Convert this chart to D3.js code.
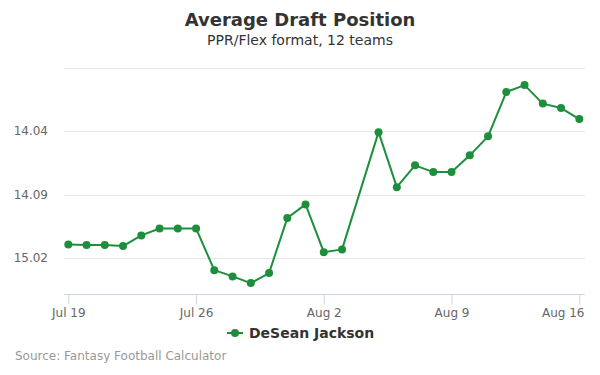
<!DOCTYPE html>
<html>
<head>
<meta charset="utf-8">
<script src="https://cdn.jsdelivr.net/npm/d3@7"></script>
<style>
  body { margin: 0; background: #fff; }
  svg { font-family: "DejaVu Sans", sans-serif; display: block; }
</style>
</head>
<body>
<svg id="chart" width="600" height="375"></svg>
<script>
// dates (2020) and overall pick number (12-team league)
const dates = [
  '2020-07-19', '2020-07-20', '2020-07-21', '2020-07-22', '2020-07-23', '2020-07-24', '2020-07-25',
  '2020-07-26', '2020-07-27', '2020-07-28', '2020-07-29', '2020-07-30', '2020-07-31', '2020-08-01',
  '2020-08-02', '2020-08-03', '2020-08-05', '2020-08-06', '2020-08-07', '2020-08-08', '2020-08-09',
  '2020-08-10', '2020-08-11', '2020-08-12', '2020-08-13', '2020-08-14', '2020-08-15', '2020-08-16'
];
const picks = [
  168.92, 168.97, 168.97, 169.05, 168.21, 167.66, 167.66,
  167.66, 170.95, 171.44, 171.97, 171.18, 166.84, 165.76,
  169.53, 169.31, 160.06, 164.40, 162.68, 163.21, 163.21,
  161.89, 160.39, 156.90, 156.35, 157.81, 158.16, 159.03
];
const gridValues = [155, 160, 165, 170];
const yTickValues = [160, 165, 170];
const yTickLabels = ['14.04', '14.09', '15.02'];
const xTickDates = ['2020-07-19', '2020-07-26', '2020-08-02', '2020-08-09', '2020-08-16'];
const xTickLabels = ['Jul 19', 'Jul 26', 'Aug 2', 'Aug 9', 'Aug 16'];
const seriesName = 'DeSean Jackson';

const green = '#1d8f3c';
const parse = d3.timeParse('%Y-%m-%d');
const data = dates.map((d, i) => ({ date: parse(d), pick: picks[i] }));

const svg = d3.select('#chart');
const plotLeft = 64, plotRight = 585, plotTop = 68, plotBottom = 294;

const x = d3.scaleTime()
  .domain([parse('2020-07-19'), parse('2020-08-16')])
  .range([68.3, 579.3]);
const y = d3.scaleLinear()
  .domain([155, 172.83])
  .range([plotTop, plotBottom]);

// title
svg.append('text')
  .attr('x', 300).attr('y', 26)
  .attr('text-anchor', 'middle')
  .style('font-size', '18px').style('font-weight', 'bold').style('fill', '#333')
  .text('Average Draft Position');
svg.append('text')
  .attr('x', 300).attr('y', 45)
  .attr('text-anchor', 'middle')
  .style('font-size', '14px').style('fill', '#333')
  .text('PPR/Flex format, 12 teams');

// grid
svg.append('g')
  .selectAll('line')
  .data(gridValues)
  .join('line')
  .attr('x1', plotLeft).attr('x2', plotRight)
  .attr('y1', d => Math.round(y(d)) + 0.5).attr('y2', d => Math.round(y(d)) + 0.5)
  .attr('stroke', '#e6e6e6');

// y labels
svg.append('g')
  .selectAll('text')
  .data(yTickValues)
  .join('text')
  .attr('x', 48)
  .attr('y', d => y(d) + 4)
  .attr('text-anchor', 'end')
  .style('font-size', '12px').style('fill', '#666')
  .text((d, i) => yTickLabels[i]);

// x axis
const xAxis = svg.append('g')
  .attr('transform', `translate(0,${plotBottom + 0.5})`)
  .call(d3.axisBottom(x)
    .tickValues(xTickDates.map(parse))
    .tickSize(10)
    .tickSizeOuter(0)
    .tickFormat((d, i) => xTickLabels[i]));
xAxis.select('.domain').remove();
xAxis.insert('line', ':first-child')
  .attr('x1', plotLeft).attr('x2', plotRight)
  .attr('stroke', '#ccd6eb');
xAxis.selectAll('.tick line').attr('stroke', '#ccd6eb');
xAxis.selectAll('.tick text')
  .attr('y', 14)
  .attr('dy', '0.71em')
  .style('font-family', '"DejaVu Sans", sans-serif')
  .style('font-size', '12px').style('fill', '#666');
// keep the last label inside the plot edge
xAxis.selectAll('.tick:last-of-type text')
  .attr('text-anchor', 'end')
  .attr('x', plotRight - 1 - x(parse(xTickDates[xTickDates.length - 1])));

// line + markers
const line = d3.line().x(d => x(d.date)).y(d => y(d.pick));
svg.append('path')
  .datum(data)
  .attr('d', line)
  .attr('fill', 'none')
  .attr('stroke', green)
  .attr('stroke-width', 2)
  .attr('stroke-linejoin', 'round');
svg.append('g')
  .selectAll('circle')
  .data(data)
  .join('circle')
  .attr('cx', d => x(d.date))
  .attr('cy', d => y(d.pick))
  .attr('r', 4)
  .attr('fill', green);

// legend
const legend = svg.append('g').attr('transform', 'translate(227,333)');
legend.append('line').attr('x1', 0).attr('x2', 16).attr('stroke', green).attr('stroke-width', 2);
legend.append('circle').attr('cx', 8).attr('r', 4).attr('fill', green);
legend.append('text')
  .attr('x', 22).attr('y', 5)
  .style('font-size', '14px').style('font-weight', 'bold').style('fill', '#333')
  .text(seriesName);

// credits
svg.append('text')
  .attr('x', 15).attr('y', 360)
  .style('font-size', '12px').style('fill', '#999')
  .text('Source: Fantasy Football Calculator');
</script>
</body>
</html>
